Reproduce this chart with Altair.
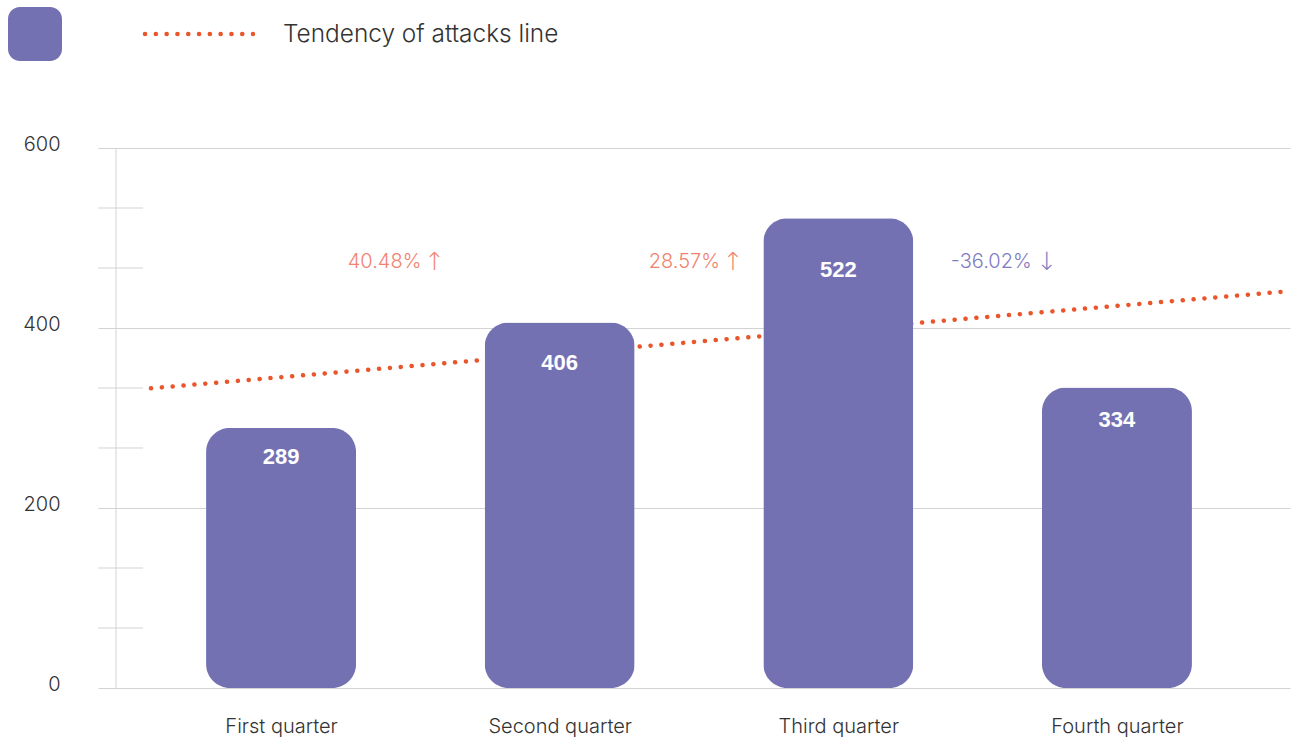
import altair as alt
import pandas as pd

# Attacks per quarter
quarters = ["First quarter", "Second quarter", "Third quarter", "Fourth quarter"]
attacks = [289, 406, 522, 334]

# Tendency line end points (quarter position, attacks)
trend_pos = [-0.467, 3.621]
trend_val = [333, 441]

# Quarter-over-quarter change labels
changes = ["40.48%", "28.57%", "-36.02%"]
change_up = [True, True, False]

y_ticks = [0, 200, 400, 600]
minor_ticks = [66.67, 133.33, 266.67, 333.33, 466.67, 533.33]
legend_label = "Tendency of attacks line"

BAR = "#7471B3"
TREND = "#E9562B"
UP = "#F2826F"
DOWN = "#7F7BC3"
GRID = "#D3D3D3"
TEXT = "#333333"
FONT = "Inter"
BOLD_FONT = "Liberation Sans"
ARROW_FONT = "DejaVu Sans"

W, H = 1192, 540
X_DOMAIN = [-0.657, 3.621]

df = pd.DataFrame({"idx": list(range(len(quarters))), "quarter": quarters, "attacks": attacks})

label_expr = "[" + ",".join(f"'{q}'" for q in quarters) + "][datum.value]"

x_enc = alt.X(
    "idx:Q",
    scale=alt.Scale(domain=X_DOMAIN, nice=False, zero=False, padding=0),
    axis=alt.Axis(
        values=list(range(len(quarters))), labelExpr=label_expr, grid=False,
        domain=False, ticks=False, labelPadding=28, labelFontSize=20,
        labelColor=TEXT, labelFont=FONT, labelFontWeight=300, title=None,
    ),
)
y_enc = alt.Y(
    "attacks:Q",
    scale=alt.Scale(domain=[0, 600], nice=False, padding=0),
    axis=alt.Axis(
        values=y_ticks, grid=True, gridColor=GRID, gridWidth=1, domain=False,
        ticks=False, labelPadding=38, labelFontSize=20, labelColor=TEXT,
        labelFont=FONT, labelFontWeight=300, labelOffset=-4, title=None,
    ),
)

base = alt.Chart(df)

bars = base.mark_bar(orient="vertical", size=150, cornerRadius=24, color=BAR).encode(
    x=x_enc, y=y_enc
)

# Short ticks between the labelled gridlines
minor = alt.Chart(pd.DataFrame({"attacks": minor_ticks})).mark_rule(
    color=GRID, strokeWidth=1
).encode(y="attacks:Q", x=alt.value(0), x2=alt.value(45))

# Vertical axis line
axis_line = alt.Chart(pd.DataFrame({"lo": [y_ticks[0]], "hi": [y_ticks[-1]]})).mark_rule(
    color=GRID, strokeWidth=1
).encode(x=alt.value(18), y="lo:Q", y2="hi:Q")

# Dotted tendency line
trend = alt.Chart(pd.DataFrame({"idx": trend_pos, "attacks": trend_val})).mark_line(
    color=TREND, strokeWidth=4.5, strokeCap="round", strokeDash=[0.1, 10.8]
).encode(x="idx:Q", y="attacks:Q")

# Value labels sit a little below each bar's top
values = base.transform_calculate(label_y="datum.attacks * 0.89").mark_text(
    color="white", font=BOLD_FONT, fontWeight="bold", fontSize=22, baseline="middle"
).encode(x="idx:Q", y="label_y:Q", text="attacks:Q")

# Change labels between neighbouring quarters
change_layers = []
text_dx = [1, 21, 54]
for i, (txt, up) in enumerate(zip(changes, change_up)):
    colour = UP if up else DOWN
    cdf = pd.DataFrame({"pos": [i + 0.5], "txt": [txt], "arrow": ["↑" if up else "↓"]})
    change_layers.append(
        alt.Chart(cdf).mark_text(
            font=FONT, fontWeight=300, fontSize=20, baseline="middle", align="right",
            color=colour, dx=text_dx[i],
        ).encode(x="pos:Q", y=alt.value(114), text="txt:N")
    )
    change_layers.append(
        alt.Chart(cdf).mark_text(
            font=ARROW_FONT, fontWeight=200, fontSize=25, baseline="middle", align="center",
            color=colour, dx=text_dx[i] + (13 if up else 15),
        ).encode(x="pos:Q", y=alt.value(114), text="arrow:N")
    )

# Legend row above the plot
legend_df = pd.DataFrame({"k": [legend_label]})
legend_box = alt.Chart(legend_df).mark_rect(color=BAR, cornerRadius=12).encode(
    x=alt.value(-90), x2=alt.value(-36), y=alt.value(-141), y2=alt.value(-87)
)
legend_line = alt.Chart(legend_df).mark_rule(
    color=TREND, strokeWidth=4.5, strokeCap="round", strokeDash=[0.1, 10.7]
).encode(x=alt.value(47), x2=alt.value(155), y=alt.value(-114))
legend_text = alt.Chart(legend_df).mark_text(
    font=FONT, fontWeight=300, fontSize=24.4, align="left", baseline="middle", color=TEXT
).encode(x=alt.value(185), y=alt.value(-113), text="k:N")

chart = alt.layer(
    minor, axis_line, trend, bars, values, *change_layers,
    legend_box, legend_line, legend_text,
).properties(
    width=W, height=H,
    autosize=alt.AutoSizeParams(type="none"),
    padding={"left": 98, "top": 148, "right": 2, "bottom": 52},
).configure(background="white").configure_view(strokeWidth=0)

chart.save("out.html", embed_options={"renderer": "svg", "actions": False})
